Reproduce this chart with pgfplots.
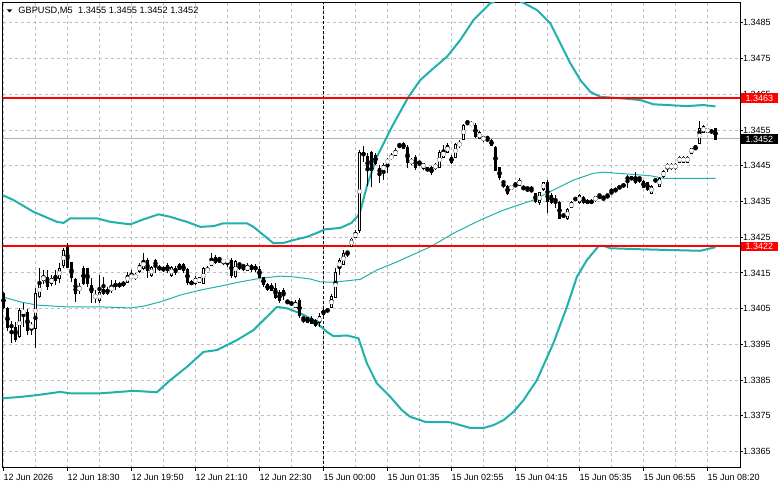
\documentclass[border=0pt]{standalone}
\usepackage{fontspec}
\setmainfont{Liberation Sans}
\usepackage{pgfplots}
\usepackage{pgfplotstable}
\pgfplotsset{compat=1.18}
\definecolor{lsg}{RGB}{32,178,170}
\definecolor{gridc}{RGB}{192,192,192}

\pgfplotstableread{
i o h l c
0 1.34094 1.34099 1.34049 1.34054
1 1.34049 1.34054 1.33987 1.33996
2 1.34001 1.34015 1.33954 1.34004
3 1.33998 1.34015 1.33959 1.33965
4 1.33973 1.34052 1.33970 1.34046
5 1.34038 1.34066 1.33998 1.34046
6 1.34040 1.34049 1.33976 1.33990
7 1.33996 1.34012 1.33976 1.34004
8 1.33996 1.34108 1.33942 1.34094
9 1.34085 1.34164 1.34082 1.34124
10 1.34130 1.34158 1.34119 1.34141
11 1.34138 1.34158 1.34102 1.34113
12 1.34122 1.34144 1.34113 1.34136
13 1.34144 1.34158 1.34116 1.34130
14 1.34136 1.34178 1.34124 1.34164
15 1.34172 1.34220 1.34164 1.34214
16 1.34220 1.34234 1.34164 1.34164
17 1.34178 1.34180 1.34127 1.34136
18 1.34133 1.34138 1.34071 1.34094
19 1.34102 1.34122 1.34091 1.34113
20 1.34164 1.34169 1.34116 1.34122
21 1.34164 1.34166 1.34113 1.34122
22 1.34116 1.34138 1.34068 1.34094
23 1.34082 1.34102 1.34066 1.34088
24 1.34074 1.34144 1.34068 1.34094
25 1.34105 1.34138 1.34088 1.34094
26 1.34105 1.34110 1.34088 1.34094
27 1.34102 1.34130 1.34094 1.34113
28 1.34116 1.34130 1.34102 1.34116
29 1.34116 1.34124 1.34108 1.34116
30 1.34124 1.34130 1.34113 1.34116
31 1.34124 1.34152 1.34122 1.34144
32 1.34136 1.34158 1.34133 1.34144
33 1.34136 1.34150 1.34133 1.34144
34 1.34155 1.34178 1.34152 1.34172
35 1.34164 1.34206 1.34158 1.34186
36 1.34186 1.34192 1.34138 1.34158
37 1.34144 1.34172 1.34141 1.34164
38 1.34186 1.34192 1.34152 1.34169
39 1.34164 1.34172 1.34155 1.34164
40 1.34166 1.34169 1.34152 1.34158
41 1.34172 1.34178 1.34152 1.34158
42 1.34144 1.34172 1.34141 1.34164
43 1.34164 1.34172 1.34147 1.34152
44 1.34175 1.34178 1.34158 1.34161
45 1.34175 1.34178 1.34150 1.34158
46 1.34161 1.34164 1.34119 1.34124
47 1.34122 1.34130 1.34116 1.34122
48 1.34122 1.34141 1.34116 1.34136
49 1.34124 1.34138 1.34122 1.34136
50 1.34122 1.34166 1.34119 1.34164
51 1.34155 1.34169 1.34152 1.34164
52 1.34172 1.34206 1.34169 1.34186
53 1.34194 1.34200 1.34175 1.34180
54 1.34189 1.34192 1.34178 1.34189
55 1.34180 1.34189 1.34172 1.34186
56 1.34183 1.34189 1.34169 1.34186
57 1.34186 1.34192 1.34138 1.34144
58 1.34141 1.34189 1.34136 1.34183
59 1.34175 1.34178 1.34158 1.34175
60 1.34169 1.34172 1.34155 1.34169
61 1.34158 1.34178 1.34155 1.34172
62 1.34172 1.34175 1.34155 1.34161
63 1.34169 1.34175 1.34152 1.34161
64 1.34161 1.34169 1.34136 1.34138
65 1.34138 1.34141 1.34113 1.34119
66 1.34119 1.34122 1.34099 1.34105
67 1.34116 1.34122 1.34099 1.34102
68 1.34108 1.34122 1.34077 1.34082
69 1.34096 1.34102 1.34068 1.34074
70 1.34102 1.34108 1.34074 1.34088
71 1.34071 1.34074 1.34063 1.34071
72 1.34066 1.34068 1.34060 1.34066
73 1.34054 1.34074 1.34052 1.34068
74 1.34074 1.34082 1.34024 1.34032
75 1.34024 1.34026 1.34012 1.34024
76 1.34024 1.34026 1.34010 1.34012
77 1.34024 1.34029 1.34007 1.34010
78 1.34018 1.34021 1.34001 1.34004
79 1.34012 1.34038 1.33998 1.34029
80 1.34046 1.34054 1.34026 1.34035
81 1.34046 1.34049 1.34043 1.34046
82 1.34054 1.34091 1.34052 1.34085
83 1.34082 1.34164 1.34080 1.34152
84 1.34164 1.34192 1.34144 1.34186
85 1.34175 1.34214 1.34172 1.34206
86 1.34208 1.34214 1.34197 1.34208
87 1.34225 1.34248 1.34222 1.34245
88 1.34250 1.34270 1.34248 1.34264
89 1.34270 1.34497 1.34262 1.34488
90 1.34488 1.34505 1.34460 1.34480
91 1.34477 1.34488 1.34396 1.34438
92 1.34488 1.34494 1.34393 1.34438
93 1.34480 1.34486 1.34452 1.34458
94 1.34444 1.34452 1.34402 1.34430
95 1.34438 1.34458 1.34410 1.34452
96 1.34458 1.34472 1.34432 1.34466
97 1.34474 1.34486 1.34466 1.34477
98 1.34480 1.34500 1.34477 1.34494
99 1.34505 1.34514 1.34502 1.34505
100 1.34514 1.34516 1.34497 1.34500
101 1.34502 1.34508 1.34444 1.34460
102 1.34458 1.34472 1.34452 1.34466
103 1.34474 1.34480 1.34438 1.34444
104 1.34460 1.34463 1.34449 1.34460
105 1.34444 1.34460 1.34438 1.34458
106 1.34446 1.34449 1.34435 1.34438
107 1.34446 1.34449 1.34424 1.34432
108 1.34444 1.34460 1.34438 1.34455
109 1.34446 1.34494 1.34444 1.34488
110 1.34474 1.34508 1.34472 1.34494
111 1.34488 1.34516 1.34486 1.34508
112 1.34474 1.34480 1.34455 1.34460
113 1.34474 1.34514 1.34472 1.34511
114 1.34505 1.34522 1.34502 1.34514
115 1.34525 1.34567 1.34522 1.34564
116 1.34572 1.34575 1.34564 1.34572
117 1.34564 1.34575 1.34561 1.34572
118 1.34564 1.34570 1.34530 1.34533
119 1.34528 1.34547 1.34525 1.34544
120 1.34522 1.34536 1.34519 1.34533
121 1.34528 1.34530 1.34516 1.34528
122 1.34522 1.34525 1.34505 1.34508
123 1.34502 1.34505 1.34438 1.34438
124 1.34444 1.34446 1.34413 1.34416
125 1.34404 1.34407 1.34388 1.34404
126 1.34393 1.34396 1.34368 1.34374
127 1.34385 1.34396 1.34382 1.34393
128 1.34396 1.34404 1.34393 1.34396
129 1.34396 1.34416 1.34393 1.34410
130 1.34390 1.34393 1.34382 1.34390
131 1.34388 1.34390 1.34376 1.34388
132 1.34382 1.34393 1.34379 1.34382
133 1.34374 1.34376 1.34348 1.34351
134 1.34346 1.34376 1.34343 1.34374
135 1.34385 1.34407 1.34382 1.34404
136 1.34404 1.34410 1.34320 1.34351
137 1.34368 1.34374 1.34343 1.34346
138 1.34354 1.34368 1.34332 1.34354
139 1.34348 1.34351 1.34301 1.34304
140 1.34312 1.34315 1.34304 1.34312
141 1.34304 1.34332 1.34301 1.34329
142 1.34334 1.34351 1.34332 1.34348
143 1.34357 1.34360 1.34354 1.34357
144 1.34346 1.34371 1.34343 1.34368
145 1.34362 1.34365 1.34343 1.34346
146 1.34354 1.34357 1.34343 1.34346
147 1.34354 1.34357 1.34343 1.34346
148 1.34354 1.34368 1.34351 1.34365
149 1.34368 1.34371 1.34357 1.34368
150 1.34362 1.34365 1.34354 1.34362
151 1.34368 1.34371 1.34360 1.34368
152 1.34376 1.34388 1.34374 1.34376
153 1.34382 1.34385 1.34382 1.34382
154 1.34390 1.34393 1.34390 1.34390
155 1.34396 1.34399 1.34393 1.34396
156 1.34416 1.34427 1.34390 1.34416
157 1.34416 1.34418 1.34413 1.34416
158 1.34416 1.34432 1.34399 1.34402
159 1.34416 1.34418 1.34404 1.34416
160 1.34407 1.34410 1.34388 1.34390
161 1.34404 1.34407 1.34382 1.34385
162 1.34374 1.34396 1.34371 1.34393
163 1.34410 1.34413 1.34407 1.34410
164 1.34393 1.34418 1.34390 1.34416
165 1.34421 1.34438 1.34418 1.34435
166 1.34444 1.34458 1.34435 1.34455
167 1.34444 1.34458 1.34441 1.34455
168 1.34444 1.34458 1.34441 1.34455
169 1.34460 1.34477 1.34458 1.34474
170 1.34460 1.34477 1.34458 1.34474
171 1.34460 1.34477 1.34458 1.34474
172 1.34486 1.34500 1.34483 1.34500
173 1.34502 1.34505 1.34494 1.34502
174 1.34514 1.34575 1.34511 1.34556
175 1.34544 1.34564 1.34542 1.34561
176 1.34544 1.34558 1.34542 1.34556
177 1.34547 1.34553 1.34539 1.34547
178 1.34556 1.34556 1.34525 1.34525
}\candles

\pgfplotstableread{
i p
-0.25 1.34368
2.5 1.34354
7.5 1.34321
13.35 1.34293
15 1.34290
16.7 1.34303
23.35 1.34303
26.7 1.34293
31.7 1.34286
35 1.34300
38.75 1.34314
41.7 1.34307
45.85 1.34293
49.2 1.34279
52.5 1.34281
55 1.34289
60.85 1.34289
62.5 1.34279
65 1.34256
67.5 1.34233
70 1.34234
72.5 1.34242
75.85 1.34251
78.35 1.34262
80.4 1.34272
84.2 1.34276
87 1.34290
89 1.34315
91 1.34399
93.35 1.34475
97.1 1.34559
101.25 1.34643
104.2 1.34690
107.5 1.34723
110.85 1.34755
114.2 1.34802
117.5 1.34858
121.7 1.34905
125.9 1.34925
130 1.34906
133.35 1.34886
136.7 1.34849
139.2 1.34793
141.7 1.34737
144.2 1.34690
146.7 1.34657
149.2 1.34643
154.2 1.34639
159.2 1.34634
162.5 1.34622
170.85 1.34617
175 1.34620
178 1.34616
}\bandU

\pgfplotstableread{
i p
-0.25 1.34083
4.2 1.34069
8.35 1.34060
15.85 1.34055
24.2 1.34055
31.7 1.34052
35 1.34057
39.2 1.34069
44.2 1.34088
49.2 1.34102
54.2 1.34113
59.2 1.34125
64.2 1.34135
69.2 1.34141
72.5 1.34139
76.7 1.34133
79.2 1.34125
82.5 1.34124
89.2 1.34132
93.35 1.34158
98.35 1.34181
106.7 1.34223
112.5 1.34261
119.2 1.34298
125 1.34326
132.5 1.34354
137.5 1.34382
142.5 1.34410
147.5 1.34429
150 1.34432
155.85 1.34427
161.7 1.34422
165 1.34415
178 1.34415
}\bandM

\pgfplotstableread{
i p
-0.25 1.33799
4.2 1.33803
8.35 1.33808
14.2 1.33817
16.7 1.33813
24.2 1.33813
32.5 1.33820
38.35 1.33816
41.7 1.33850
45.85 1.33887
50 1.33929
53.35 1.33934
58.35 1.33962
62.5 1.33990
65 1.34018
67.1 1.34041
68.35 1.34055
70.85 1.34051
74.2 1.34037
77.5 1.34018
80.85 1.33985
82.5 1.33973
85.85 1.33975
88.75 1.33967
90.85 1.33897
93.35 1.33841
96.7 1.33803
99.6 1.33766
101.7 1.33747
104.2 1.33738
105.45 1.33733
111.7 1.33732
114.2 1.33724
116.7 1.33716
120 1.33716
122.5 1.33724
125 1.33738
127.5 1.33761
130 1.33794
133.35 1.33850
137.5 1.33954
140.85 1.34055
143.35 1.34139
145.85 1.34186
148.75 1.34225
150 1.34226
151.7 1.34219
160 1.34216
174.2 1.34212
178 1.34222
}\bandL

\begin{document}
\begin{tikzpicture}
\path[use as bounding box, fill=white] (0,0) rectangle (781bp,489bp);
\begin{axis}[
  at={(2.5bp,21bp)}, anchor=south west,
  width=737.5bp, height=465.5bp, scale only axis,
  xmin=-0.25, xmax=184.125, ymin=1.33604, ymax=1.34907,
  axis line style={black, line width=1bp},
  xtick={0,16,32,48,64,80,96,112,128,144,160,176},
  xticklabels={12 Jun 2026,12 Jun 18:30,12 Jun 19:50,12 Jun 21:10,12 Jun 22:30,15 Jun 00:00,15 Jun 01:35,15 Jun 02:55,15 Jun 04:15,15 Jun 05:35,15 Jun 06:55,15 Jun 08:20},
  minor xtick={8,24,40,56,72,88,104,120,136,152,168},
  ytick={1.3365,1.3375,1.3385,1.3395,1.3405,1.3415,1.3425,1.3435,1.3445,1.3455,1.3465,1.3475,1.3485},
  yticklabels={1.3365,1.3375,1.3385,1.3395,1.3405,1.3415,1.3425,1.3435,1.3445,1.3455,1.3465,1.3475,1.3485},
  xtick pos=left, ytick pos=right, yticklabel pos=right,
  tick align=outside, major tick length=3bp, minor tick length=0pt,
  tick style={black, line width=1bp},
  grid=both,
  major grid style={gridc, line width=1bp, dash pattern=on 3bp off 3bp},
  minor grid style={gridc, line width=1bp, dash pattern=on 3bp off 3bp},
  ticklabel style={font=\fontsize{9bp}{10bp}\selectfont, inner sep=0pt, text=black},
  xticklabel style={anchor=north west, yshift=-3.5bp},
  yticklabel style={anchor=west},
  clip=true,
]
% bid line
\addplot[black!30, line width=1bp, forget plot] coordinates {(-5,1.34525) (190,1.34525)};
% period separator
\addplot[black, line width=1bp, dash pattern=on 3bp off 2bp, forget plot] coordinates {(80,1.3300) (80,1.3550)};
% bands
\addplot[lsg, line width=2bp, forget plot] table[x=i,y=p]{\bandU};
\addplot[lsg, line width=1bp, forget plot] table[x=i,y=p]{\bandM};
\addplot[lsg, line width=2bp, forget plot] table[x=i,y=p]{\bandL};
% levels
\addplot[red, line width=2bp, forget plot] coordinates {(-5,1.34639) (190,1.34639)};
\addplot[red, line width=2bp, forget plot] coordinates {(-5,1.34224) (190,1.34224)};
% wicks
\addplot[only marks, mark=none, forget plot,
  error bars/.cd, y dir=both, y explicit, error mark=none,
  error bar style={line width=1bp, black, solid}]
  table[x=i, y expr={(\thisrow{h}+\thisrow{l})/2}, y error expr={(\thisrow{h}-\thisrow{l})/2}]{\candles};
% bodies
\addplot[only marks, mark=none, forget plot,
  error bars/.cd, y dir=both, y explicit, error mark=none,
  error bar style={line width=3bp, black, solid}]
  table[x=i, y expr={(\thisrow{o}+\thisrow{c})/2}, y error expr={abs(\thisrow{c}-\thisrow{o})/2+0.000014}]{\candles};
% bullish inner (white)
\addplot[only marks, mark=none, forget plot, white,
  restrict expr to domain={(\thisrow{c}-\thisrow{o})*100000}{3:1000},
  error bars/.cd, y dir=both, y explicit, error mark=none,
  error bar style={line width=1bp, draw=white, color=white, solid}]
  table[x=i, y expr={(\thisrow{o}+\thisrow{c})/2}, y error expr={(\thisrow{c}-\thisrow{o})/2-0.000014}]{\candles};
\coordinate (lvA) at (axis cs:184.125,1.34639);
\coordinate (lvB) at (axis cs:184.125,1.34224);
\coordinate (bid) at (axis cs:184.125,1.34525);
\end{axis}
\begin{scope}[every node/.style={font=\fontsize{9bp}{10bp}\selectfont, anchor=west, inner xsep=4.5bp, inner ysep=0pt, minimum height=9.5bp, text height=6.4bp, text depth=0pt}]
\node[fill=red, text=white] at ([xshift=1bp]lvA) {1.3463};
\node[fill=red, text=white] at ([xshift=1bp]lvB) {1.3422};
\node[fill=black, text=white] at ([xshift=1bp]bid) {1.3452};
\end{scope}
\fill[black] (6.7bp,479.7bp) -- (12.3bp,479.7bp) -- (9.5bp,476.6bp) -- cycle;
\node[anchor=base west, inner sep=0pt, font=\fontsize{9.2bp}{11bp}\selectfont] at (18.3bp,475.7bp) {GBPUSD,M5\hspace{0.6em}1.3455 1.3455 1.3452 1.3452};
\end{tikzpicture}
\end{document}
